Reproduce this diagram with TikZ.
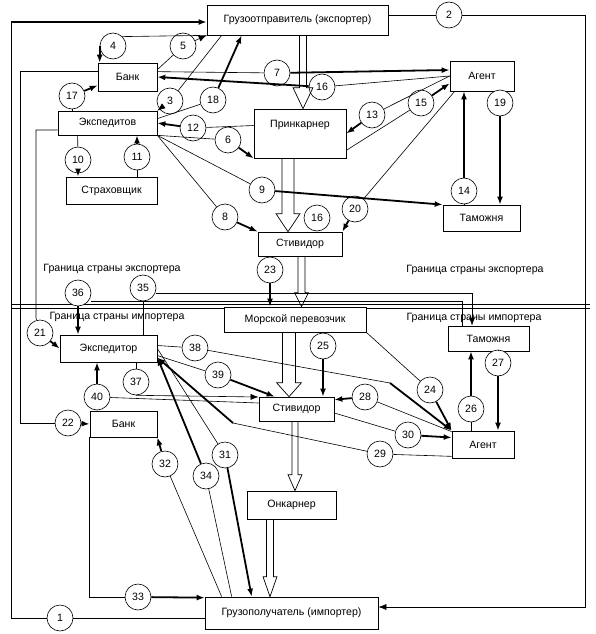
\documentclass[tikz,border=0pt]{standalone}
\usepackage{fontspec}
\setmainfont{Liberation Sans}
\usetikzlibrary{arrows.meta,calc}

\begin{document}
\begin{tikzpicture}[
  x=1pt, y=-1pt,
  font=\fontsize{10.6}{12.5}\selectfont,
  box/.style 2 args={draw, line width=0.7pt, minimum width=#1pt, minimum height=#2pt, inner sep=1pt},
  num/.style={circle, draw, line width=0.6pt, fill=white, minimum size=26pt, inner sep=0pt},
  conn/.style={line width=0.6pt},
  bold/.style={line width=1.8pt},
  arr/.style={-{Latex[length=8pt,width=6pt]}},
  flow/.style n args={3}{line width=0.7pt, to path={
    ($(\tikztostart)+(-#1,0)$) -- ($(\tikztotarget)+(-#1,-#3)$) -- ($(\tikztotarget)+(-#2,-#3)$)
    -- (\tikztotarget) -- ($(\tikztotarget)+(#2,-#3)$) -- ($(\tikztotarget)+(#1,-#3)$)
    -- ($(\tikztostart)+(#1,0)$)}},
  border/.style={double, double distance=3.5pt, line width=0.7pt},
  lbl/.style={inner sep=0pt}
]
  \useasboundingbox (0,0) rectangle (596,634);

  % Country border
  \draw[border] (11,306.5) -- (590,306.5);

  % Exporter side
  \node[box={181}{30}] (gso) at (297.5,20) {Грузоотправитель (экспортер)};
  \node[box={59}{28}] (bank1) at (127.5,77) {Банк};
  \node[box={64}{30}] (agent1) at (482,76) {Агент};
  \node[box={99}{24}] (exp1) at (107.5,123) {Экспедитов};
  \node[box={92}{49}, align=center] (pk) at (300,133.5) {Принкарнер\\[6pt]~};
  \node[box={91}{27}] (ins) at (111.5,190.5) {Страховщик};
  \node[box={77}{26}] (cust1) at (481.5,218) {Таможня};
  \node[box={84}{24}] (stv1) at (300,244) {Стивидор};

  % Carrier
  \node[box={142}{25}, fill=white] (sea) at (295,319.5) {Морской перевозчик};

  % Importer side
  \node[box={97}{27}] (exp2) at (108.5,348.5) {Экспедитор};
  \node[box={81}{25}] (cust2) at (488.5,338.5) {Таможня};
  \node[box={75}{24}] (stv2) at (296.5,409) {Стивидор};
  \node[box={62}{27}] (agent2) at (483,444.5) {Агент};
  \node[box={67}{26}] (bank2) at (123.5,424) {Банк};
  \node[box={89}{28}] (onc) at (291.5,505) {Онкарнер};
  \node[box={173}{32}] (gpl) at (291.5,613) {Грузополучатель (импортер)};

  % Border labels
  \node[lbl] (lex1) at (112,269) {Граница страны экспортера};
  \node[lbl] (lex2) at (475,270) {Граница страны экспортера};
  \node[lbl] (lim1) at (117,317) {Граница страны импортера};
  \node[lbl] (lim2) at (474,318) {Граница страны импортера};

  % Numbers
  \node[num] (c1) at (60,618) {1};
  \node[num] (c2) at (449,15) {2};
  \node[num] (c3) at (170,101) {3};
  \node[num] (c4) at (113,46) {4};
  \node[num] (c5) at (183,46) {5};
  \node[num] (c6) at (228,140) {6};
  \node[num] (c7) at (277,73) {7};
  \node[num] (c8) at (225,217) {8};
  \node[num] (c9) at (262,190) {9};
  \node[num] (c10) at (78,160) {10};
  \node[num] (c11) at (137,157) {11};
  \node[num] (c12) at (193,128) {12};
  \node[num] (c13) at (372,115) {13};
  \node[num] (c14) at (464,191) {14};
  \node[num] (c15) at (421,103) {15};
  \node[num] (c16) at (322,87) {16};
  \node[num] (c16b) at (317,218) {16};
  \node[num] (c17) at (72,96) {17};
  \node[num] (c18) at (213,100) {18};
  \node[num] (c19) at (500,103) {19};
  \node[num] (c20) at (355,209) {20};
  \node[num] (c21) at (40,333) {21};
  \node[num] (c22) at (68,423) {22};
  \node[num] (c23) at (270,270) {23};
  \node[num] (c24) at (430,390) {24};
  \node[num] (c25) at (323,346) {25};
  \node[num] (c26) at (471,409) {26};
  \node[num] (c27) at (498,363) {27};
  \node[num] (c28) at (365,397) {28};
  \node[num] (c29) at (380,454) {29};
  \node[num] (c30) at (408,435) {30};
  \node[num] (c31) at (225,455) {31};
  \node[num] (c32) at (165,464) {32};
  \node[num] (c33) at (138,597) {33};
  \node[num] (c34) at (206,476) {34};
  \node[num] (c35) at (143,288) {35};
  \node[num] (c36) at (78,293) {36};
  \node[num] (c37) at (136,382) {37};
  \node[num] (c38) at (195,348) {38};
  \node[num] (c39) at (218,375) {39};
  \node[num] (c40) at (97,397) {40};

  % Cargo flow
  \draw[flow={3.5}{10}{21}] ([xshift=5.5pt]gso.south) to ([xshift=3pt]pk.north);
  \draw[flow={6}{12}{18}] ([xshift=-12pt]pk.south) to ([xshift=-12pt]stv1.north);
  \draw[flow={3.5}{7}{14}] ([xshift=1.5pt]stv1.south) to ([xshift=6.5pt]sea.north);
  \draw[flow={6.5}{12.5}{14}] ([xshift=-6pt]sea.south) to ([xshift=-7.5pt]stv2.north);
  \draw[flow={3}{7}{16}] ([xshift=-1.5pt]stv2.south) to ([xshift=3.5pt]onc.north);
  \draw[flow={3.5}{7}{20}] ([xshift=-21.5pt]onc.south) to ([xshift=-21.5pt]gpl.north);

  % Bend points
  \coordinate (k1) at (11,22);
  \coordinate (k2) at (585,15);
  \coordinate (k21) at (36,318);
  \coordinate (k22) at (20,423);
  \coordinate (k29) at (233,423);
  \coordinate (k38) at (390,383);

  % Documents and payments
  \draw[conn] ([yshift=-5pt]gpl.west) -- (c1);
  \draw[conn] (c1) -| (k1);
  \draw[bold, arr] (k1) -- (k1 -| gso.west);

  \draw[conn] ([yshift=5pt]gso.east) -- (c2);
  \draw[conn, arr] (c2) -- (k2) |- ([yshift=6pt]gpl.east);

  \draw[conn] ([xshift=15pt]gso.south west) -- (c3);
  \draw[conn, arr] (c3) -- (exp1.north east);

  \draw[conn] (gso.south west) -- (c4.north east);
  \draw[bold, arr] (c4.west) -- (c4.west |- bank1.north);

  \draw[conn] ([yshift=-7pt]bank1.north east) -- (c5);
  \draw[conn, arr] (c5) -- (gso.south west);

  \draw[conn] (exp1.south east) -- (c6);
  \draw[bold, arr] (c6) -- (pk.south west);

  \draw[conn] ([yshift=-9pt]bank1.north east) -- (c7);
  \draw[bold, arr] (c7) -- ([yshift=6pt]agent1.west);

  \draw[conn] (exp1.south east) -- (c8);
  \draw[bold, arr] (c8) -- (stv1.north west);

  \draw[conn] (exp1.south east) -- (c9);
  \draw[bold, arr] (c9) -- (cust1.north west);

  \draw[conn] ([xshift=20pt]exp1.south west) -- (c10);
  \draw[bold, arr] (c10) -- (c10 |- ins.north);

  \draw[conn] (ins.north -| c11) -- (c11);
  \draw[bold, arr] (c11) -- (c11 |- exp1.south);

  \draw[conn] ([yshift=8pt]pk.west) -- (c12);
  \draw[bold, arr] (c12) -- (exp1.east);

  \draw[conn] (agent1.west) -- (c13);
  \draw[bold, arr] (c13) -- (pk.east);

  \draw[conn] (cust1.north -| c14) -- (c14);
  \draw[bold, arr] (c14) -- (c14 |- agent1.south);

  \draw[conn] ([yshift=8pt]pk.south east) -- (c15);
  \draw[bold, arr] (c15) -- ([yshift=8pt]agent1.south west);

  \draw[conn] (agent1.west) -- (c16);
  \draw[bold, arr] (c16) -- (bank1.east);

  \draw[conn] (exp1.north -| c17) -- (c17);
  \draw[bold, arr] (c17) -- ([yshift=6pt]bank1.south west);

  \draw[conn] ([yshift=-8pt]exp1.north east) -- (c18);
  \draw[bold, arr] (c18) -- ([xshift=35pt]gso.south west);

  \draw[bold, arr] (c19) -- (c19 |- cust1.north);

  \draw[conn] ([xshift=5pt]agent1.south west) -- (c20);
  \draw[bold, arr] (c20) -- (stv1.north east);

  \draw[conn] ([yshift=-7pt]exp1.west) -| (k21) -- (c21);
  \draw[bold, arr] (c21) -- (exp2.west);

  \draw[conn] ([yshift=-9pt]bank1.north west) -| (k22) -- (c22);
  \draw[bold, arr] (c22) -- (bank2.west);

  \draw[conn] (stv1.south -| c23) -- (c23);
  \draw[bold, arr] (c23) -- (c23 |- sea.north);

  \draw[conn] (sea.south east) -- (c24);
  \draw[bold, arr] (c24) -- (agent2.north west);

  \draw[conn] (sea.south -| c25) -- (c25);
  \draw[bold, arr] (c25) -- (c25 |- stv2.north);

  \draw[conn] (agent2.north -| c26) -- (c26);
  \draw[bold, arr] (c26) -- (c26 |- cust2.south);

  \draw[conn] (cust2.south -| c27) -- (c27);
  \draw[bold, arr] (c27) -- (c27 |- agent2.north);

  \draw[conn] ([yshift=-1pt]agent2.north west) -- (c28);
  \draw[bold, arr] (c28) -- ([yshift=-3pt]stv2.north east);

  \draw[conn] ([yshift=2pt]agent2.south west) -- (c29);
  \draw[conn] (c29) -- (k29);
  \draw[bold, arr] (k29) -- ([yshift=-9pt]exp2.east);

  \draw[conn] ([yshift=-4pt]stv2.east) -- (c30);
  \draw[bold, arr] (c30) -- ([yshift=7pt]agent2.west);

  \draw[conn] (exp2.east) -- (c31);
  \draw[bold, arr] (c31) -- ([xshift=47pt]gpl.north west);

  \draw[conn] ([xshift=17pt]gpl.north west) -- (c32);
  \draw[bold, arr] (c32) -- (bank2.south east);

  \draw[conn] (bank2.south west) |- (c33);
  \draw[bold, arr] (c33) -- ([yshift=-1pt]gpl.north west);

  \draw[conn] ([xshift=27pt]gpl.north west) -- (c34);
  \draw[bold, arr] (c34) -- ([yshift=-9pt]exp2.east);

  \draw[conn] (exp2.north -| c35) -- (c35);
  \draw[conn, arr] ([yshift=-5pt]c35.east) -| ([xshift=-16.5pt]cust2.north);

  \draw[conn] ([xshift=-26.5pt]cust2.north) |- ([yshift=-8pt]c36.east);
  \draw[bold, arr] (c36) -- (c36 |- exp2.north);

  \draw[conn] (exp2.south -| c37) -- (c37);
  \draw[conn, arr] (c37.south) -- ([yshift=12pt]stv2.west);

  \draw[conn] ([yshift=3pt]exp2.east) -- (c38);
  \draw[conn] (c38) -- (k38);
  \draw[bold, arr] (k38) -- (agent2.north west);

  \draw[conn] ([yshift=-7pt]exp2.east) -- (c39);
  \draw[bold, arr] (c39) -- ([xshift=16pt]stv2.north west);

  \draw[conn] ([yshift=6pt]stv2.west) -- (c40);
  \draw[bold, arr] (c40) -- (c40 |- exp2.south);
\end{tikzpicture}
\end{document}
